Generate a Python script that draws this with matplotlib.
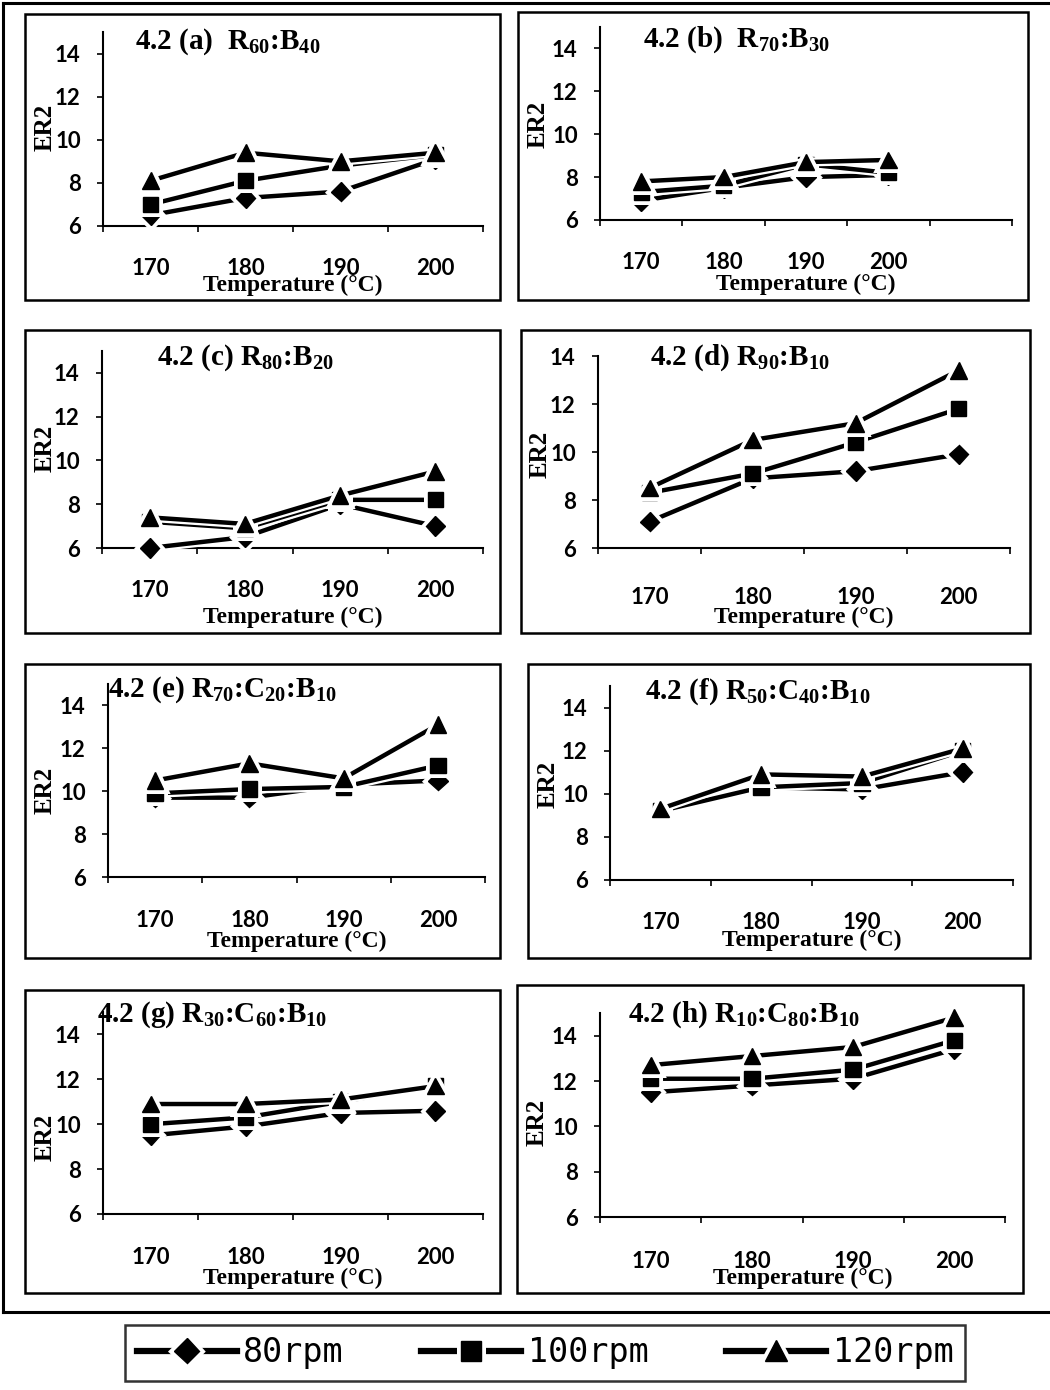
import matplotlib
matplotlib.use("Agg")
import matplotlib.pyplot as plt
import matplotlib.patheffects as pe
from matplotlib.patches import Rectangle
from matplotlib.lines import Line2D

plt.rcParams['mathtext.fontset'] = 'custom'
plt.rcParams['mathtext.rm'] = 'Liberation Serif:bold'
plt.rcParams['mathtext.default'] = 'rm'

# Data (ER2 vs temperature)
temps = ["170", "180", "190", "200"]
rpm_labels = ["80rpm", "100rpm", "120rpm"]

er2_a = [[6.5, 7.3, 7.6, 9.1], [7.0, 8.1, 8.8, 9.3], [8.1, 9.4, 9.0, 9.4]]
er2_b = [[6.9, 7.5, 8.0, 8.1], [7.3, 7.6, 8.6, 8.2], [7.8, 8.0, 8.7, 8.8]]
er2_c = [[6.0, 6.5, 8.0, 7.0], [7.2, 6.9, 8.2, 8.2], [7.4, 7.1, 8.4, 9.5]]
er2_d = [[7.1, 8.9, 9.2, 9.9], [8.3, 9.1, 10.4, 11.8], [8.5, 10.5, 11.2, 13.4]]
er2_e = [[9.7, 9.7, 10.3, 10.5], [9.9, 10.1, 10.2, 11.2], [10.5, 11.3, 10.6, 13.1]]
er2_f = [[9.2, 10.3, 10.2, 11.0], [9.2, 10.3, 10.5, 12.0], [9.3, 10.9, 10.8, 12.1]]
er2_g = [[9.5, 9.9, 10.5, 10.6], [10.0, 10.3, 11.0, 11.7], [10.9, 10.9, 11.1, 11.7]]
er2_h = [[11.5, 11.8, 12.1, 13.4], [12.1, 12.1, 12.5, 13.8], [12.7, 13.1, 13.5, 14.8]]

titles = [r"4.2 (a)  R$_{60}$:B$_{40}$", r"4.2 (b)  R$_{70}$:B$_{30}$",
          r"4.2 (c) R$_{80}$:B$_{20}$", r"4.2 (d) R$_{90}$:B$_{10}$",
          r"4.2 (e) R$_{70}$:C$_{20}$:B$_{10}$", r"4.2 (f) R$_{50}$:C$_{40}$:B$_{10}$",
          r"4.2 (g) R$_{30}$:C$_{60}$:B$_{10}$", r"4.2 (h) R$_{10}$:C$_{80}$:B$_{10}$"]
panel_data = [er2_a, er2_b, er2_c, er2_d, er2_e, er2_f, er2_g, er2_h]

# layout in pixels: left, right, y at 6, y at ymax, ymax, n slots,
# ticklabel y, xlabel y, ylabel x, ylabel y, title x, title y, box (x0, y0, x1, y1)
layout = [
    (103, 483, 226, 32, 15, 4, 267, 285, 45, 127, 135, 42, (25, 14, 500, 300)),
    (600, 1012, 220, 27, 15, 5, 261, 284, 538, 124, 643, 40, (518, 12, 1028, 300)),
    (102, 483, 548, 351, 15, 4, 589, 617, 45, 448, 157, 358, (25, 330, 500, 633)),
    (598, 1010, 548, 356, 14, 4, 596, 617, 540, 454, 650, 358, (521, 330, 1030, 633)),
    (108, 485, 877, 684, 15, 4, 919, 941, 45, 790, 108, 690, (25, 664, 500, 958)),
    (610, 1013, 880, 686, 15, 4, 921, 940, 548, 784, 645, 692, (528, 664, 1030, 958)),
    (103, 483, 1214, 1012, 15, 4, 1256, 1278, 45, 1137, 97, 1015, (25, 990, 500, 1293)),
    (600, 1005, 1217, 1013, 15, 4, 1260, 1278, 537, 1122, 628, 1015, (517, 985, 1023, 1293)),
]

W, H = 1050, 1390
fig = plt.figure(figsize=(W / 100, H / 100), dpi=100)

def fx(px):
    return px / W

def fy(py):
    return 1 - py / H

markers = ['D', 's', '^']
msizes = [10, 11, 12]
halo = [pe.Stroke(linewidth=6.5, foreground='white'), pe.Normal()]

# outer frame
fig.add_artist(Line2D([fx(3), fx(3)], [fy(3), fy(1312)], color='black', lw=2.2, transform=fig.transFigure))
fig.add_artist(Line2D([fx(3), fx(1050)], [fy(1312), fy(1312)], color='black', lw=2.2, transform=fig.transFigure))
fig.add_artist(Line2D([fx(3), fx(1050)], [fy(3), fy(3)], color='black', lw=2.2, transform=fig.transFigure))

handles = []
for i, (vals, title, lay) in enumerate(zip(panel_data, titles, layout)):
    (left, right, y6, ytop, ymax, nslot, tly, xly, ylx, yly, tx, ty, box) = lay
    x0, y0, x1, y1 = box
    fig.add_artist(Rectangle((fx(x0), fy(y1)), fx(x1 - x0), (y1 - y0) / H, fill=False,
                             edgecolor='black', lw=1.8, transform=fig.transFigure))
    ax = fig.add_axes([fx(left), fy(y6), fx(right - left), (y6 - ytop) / H])
    xs = list(range(len(temps)))
    for k in range(3):
        ln, = ax.plot(xs, vals[k], color='black', lw=3.2, marker=markers[k], ms=msizes[k],
                      mfc='black', mec='black', path_effects=halo, zorder=3 + k,
                      clip_on=False)
        if i == 0:
            handles.append(ln)
    ax.set_xlim(-0.5, nslot - 0.5)
    ax.set_ylim(6, ymax)
    ax.set_yticks(range(6, 15, 2))
    ax.set_xticks([b - 0.5 for b in range(nslot + 1)])
    ax.set_xticklabels([])
    ax.set_xticks(xs, minor=True)
    ax.set_xticklabels(temps, minor=True)
    for s in ['top', 'right']:
        ax.spines[s].set_visible(False)
    for s in ['left', 'bottom']:
        ax.spines[s].set_linewidth(1.5)
    ax.tick_params(axis='x', which='major', length=4, width=1.2, direction='out')
    pad = (tly - y6 - 9) / 1.389
    ax.tick_params(axis='x', which='minor', length=0, pad=pad)
    ax.tick_params(axis='y', length=4, width=1.2, pad=12)
    for lab in ax.get_xticklabels(minor=True) + ax.get_yticklabels():
        lab.set_fontfamily('Lato')
        lab.set_fontweight('bold')
        lab.set_fontsize(16)
    hgt = y6 - ytop
    wid = right - left
    ax.set_xlabel("Temperature (\u00b0C)", family='Liberation Serif', weight='bold', fontsize=17)
    ax.xaxis.set_label_coords(0.5, -(xly - y6) / hgt)
    ax.xaxis.label.set_va('center')
    ax.set_ylabel("ER2", family='Liberation Serif', weight='bold', fontsize=18)
    ax.yaxis.set_label_coords(-(left - ylx) / wid, (y6 - yly) / hgt)
    ax.yaxis.label.set_va('center')
    ax.patch.set_alpha(0)
    fig.text(fx(tx), fy(ty), title, family='Liberation Serif', weight='bold', fontsize=21,
             ha='left', va='center')

leg = fig.legend(handles, rpm_labels, loc='upper left', ncol=3, mode='expand',
                 bbox_to_anchor=(fx(125), fy(1326), fx(965 - 125), 0.001),
                 borderaxespad=0, frameon=True, fancybox=False, edgecolor='black',
                 handlelength=3.0, borderpad=0.35,
                 prop={'family': 'DejaVu Sans Mono', 'size': 24},
                 handletextpad=0.2, markerscale=1.3)
leg.get_frame().set_linewidth(1.8)
for h in leg.legend_handles:
    h.set_linewidth(4.5)

fig.savefig("out.png", dpi=100)
